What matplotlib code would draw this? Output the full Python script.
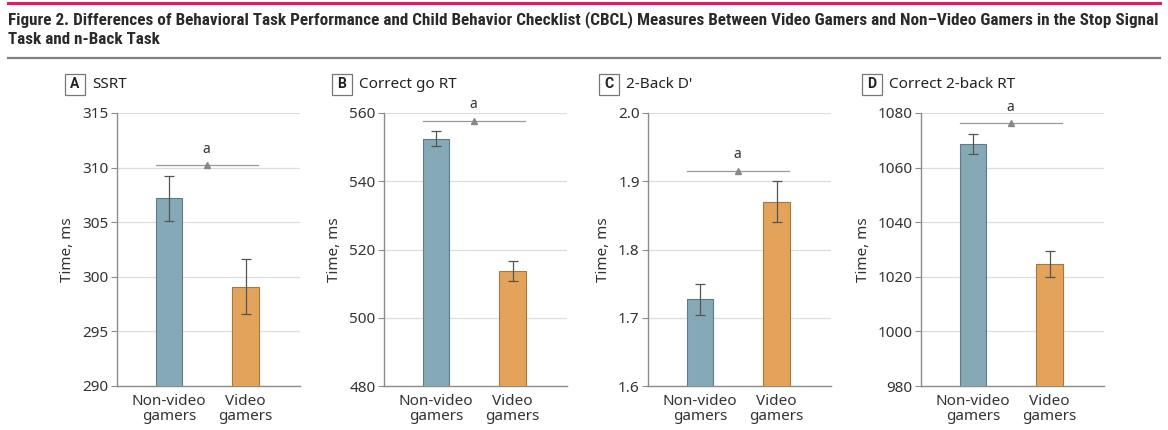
import matplotlib.pyplot as plt
import matplotlib.patches as patches
from matplotlib import font_manager
import numpy as np

plt.rcParams['font.family'] = ['Noto Sans', 'DejaVu Sans']

# Data
groups = ["Non-video\ngamers", "Video\ngamers"]
panel_letters = ["A", "B", "C", "D"]
panel_titles = ["SSRT", "Correct go RT", "2-Back D'", "Correct 2-back RT"]

ssrt = [307.2, 299.1]
ssrt_err = [2.05, 2.55]
go_rt = [552.5, 513.8]
go_rt_err = [2.15, 2.95]
dprime = [1.727, 1.870]
dprime_err = [0.023, 0.030]
back_rt = [1068.7, 1024.8]
back_rt_err = [3.7, 4.8]

ylims = [(290, 315), (480, 560), (1.6, 2.0), (980, 1080)]
yticks = [np.arange(290, 316, 5), np.arange(480, 561, 20),
          [1.6, 1.7, 1.8, 1.9, 2.0], np.arange(980, 1081, 20)]
ytick_fmt = ["{:.0f}", "{:.0f}", "{:.1f}", "{:.0f}"]
sig_y = [310.2, 557.8, 1.9155, 1076.2]

values = [ssrt, go_rt, dprime, back_rt]
errors = [ssrt_err, go_rt_err, dprime_err, back_rt_err]

bar_colors = ["#86a9b7", "#e3a35a"]
edge_colors = ["#5d7c88", "#a9773d"]

# narrow bold font for the figure title, if one is around
names = {f.name for f in font_manager.fontManager.ttflist}
title_font = "Roboto"
for cand in ["Liberation Sans Narrow", "Roboto Condensed", "Open Sans Condensed"]:
    if cand in names:
        title_font = cand
        break

W, H = 1168, 430
fig = plt.figure(figsize=(W / 100, H / 100), dpi=100)

# title and rules
fig.add_artist(plt.Line2D([8 / W, 1160 / W], [1 - 3 / H, 1 - 3 / H], color="#e5176f", lw=2.2))
fig.add_artist(plt.Line2D([8 / W, 1160 / W], [1 - 58 / H, 1 - 58 / H], color="#808080", lw=1.6))
t1 = fig.text(8 / W, 1 - 20 / H,
              "Figure 2. Differences of Behavioral Task Performance and Child Behavior Checklist (CBCL) "
              "Measures Between Video Gamers and Non–Video Gamers in the Stop Signal",
              fontsize=11, fontweight="bold", va="center", ha="left", color="#2a2a2a",
              family=[title_font, "DejaVu Sans"])
t2 = fig.text(8 / W, 1 - 40 / H, "Task and n-Back Task",
              fontsize=11, fontweight="bold", va="center", ha="left", color="#2a2a2a",
              family=[title_font, "DejaVu Sans"])
# squeeze the title to the width it has in the original
fig.canvas.draw()
wpx = t1.get_window_extent().width
scale = 1146 / wpx
t1.set_fontsize(11 * scale)
t2.set_fontsize(11 * scale)

ax_left = [117, 384, 648, 921]
ax_width = 183
ax_top, ax_bottom = 113, 386
box_left = [65, 332, 599, 862]
x = np.arange(len(groups))

for i in range(4):
    ax = fig.add_axes([ax_left[i] / W, 1 - ax_bottom / H, ax_width / W, (ax_bottom - ax_top) / H])
    ax.bar(x, values[i], width=0.35, color=bar_colors, edgecolor=edge_colors, linewidth=0.8,
           zorder=3)
    ax.errorbar(x, values[i], yerr=errors[i], fmt="none", ecolor="#555555", elinewidth=0.9,
                capsize=3.5, capthick=0.9, zorder=4)
    ax.set_xlim(-0.68, 1.71)
    ax.set_ylim(*ylims[i])
    ax.set_yticks(yticks[i])
    ax.set_yticklabels([ytick_fmt[i].format(v) for v in yticks[i]])
    ax.set_xticks(x)
    ax.set_xticklabels(groups, linespacing=1.0)
    ax.yaxis.grid(True, color="#dddddd", lw=0.9, zorder=0)
    ax.set_axisbelow(True)
    for s in ["top", "right"]:
        ax.spines[s].set_visible(False)
    for s in ["left", "bottom"]:
        ax.spines[s].set_color("#8c8c8c")
        ax.spines[s].set_linewidth(1.0)
    ax.tick_params(axis="y", length=4, color="#8c8c8c", labelsize=11, labelcolor="#333333", pad=2)
    ax.tick_params(axis="x", length=0, labelsize=11, labelcolor="#333333", pad=6)
    ax.set_ylabel("Time, ms", fontsize=11, color="#333333", labelpad=5)

    # significance bar
    ax.plot([-0.175, 1.16], [sig_y[i], sig_y[i]], color="#999999", lw=0.9, clip_on=False, zorder=5)
    ax.plot([0.49], [sig_y[i]], marker="^", color="#888888", markersize=5, clip_on=False, zorder=5)
    ax.annotate("a", xy=(0.49, sig_y[i]), xytext=(0, 6), textcoords="offset points",
                ha="center", va="bottom", fontsize=10, color="#333333", annotation_clip=False)

    # panel label
    fig.add_artist(patches.Rectangle((box_left[i] / W, 1 - 95 / H), 20 / W, 21 / H,
                                     transform=fig.transFigure, fill=False,
                                     edgecolor="#777777", lw=0.9))
    fig.text((box_left[i] + 10) / W, 1 - 84.5 / H, panel_letters[i], fontsize=10,
             fontweight="bold", ha="center", va="center", color="#222222",
             family=["Roboto", "DejaVu Sans"])
    fig.text((box_left[i] + 27) / W, 1 - 84.5 / H, panel_titles[i], fontsize=11,
             ha="left", va="center", color="#222222")

fig.savefig("out.png", dpi=100)
